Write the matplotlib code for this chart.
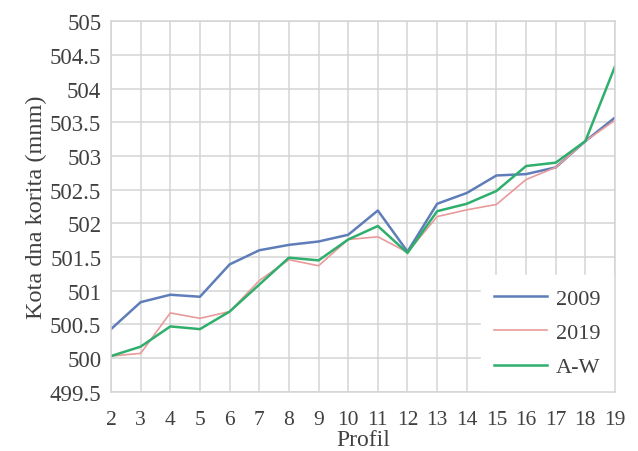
import numpy as np
import matplotlib

matplotlib.use('Agg')

import matplotlib.pyplot as plt

profiles = list(range(2, 20))
kota_2009 = [500.43, 500.83, 500.94, 500.91, 501.39, 501.60, 501.68, 501.73, 501.83,
             502.19, 501.58, 502.29, 502.45, 502.71, 502.73, 502.83, 503.22, 503.57]
kota_2019 = [500.03, 500.07, 500.67, 500.59, 500.69, 501.15, 501.46, 501.37, 501.76,
             501.80, 501.57, 502.10, 502.20, 502.28, 502.65, 502.83, 503.22, 503.53]
kota_aw = [500.03, 500.17, 500.47, 500.43, 500.69, 501.09, 501.49, 501.45, 501.76,
           501.96, 501.56, 502.18, 502.29, 502.48, 502.85, 502.90, 503.22, 504.33]
y_ticks = np.arange(499.5, 505.01, 0.5)
y_labels = ['499.5', '500', '500.5', '501', '501.5', '502', '502.5',
            '503', '503.5', '504', '504.5', '505']

plt.rcParams['font.family'] = ['Liberation Serif', 'DejaVu Serif']

fig = plt.figure(figsize=(6.38, 4.52), dpi=100)
ax = fig.add_axes([0.174, 0.131, 0.79, 0.82])

ax.plot(profiles, kota_2009, color='#5f7db8', lw=1.8, label='2009')
ax.plot(profiles, kota_2019, color='#e99a9a', lw=1.2, label='2019')
ax.plot(profiles, kota_aw, color='#2fae6c', lw=1.8, label='A-W')

ax.set_xlim(2, 19)
ax.set_ylim(499.5, 505)
ax.set_xticks(profiles)
ax.set_yticks(y_ticks)
ax.set_yticklabels(y_labels)
ax.grid(True, color='#d4d4d4', lw=1.1)
ax.set_axisbelow(True)
for s in ax.spines.values():
    s.set_color('#d4d4d4')
    s.set_linewidth(1.1)
ax.tick_params(length=0, colors='#404040')
ax.tick_params(axis='y', labelsize=16.5, pad=7)
ax.tick_params(axis='x', labelsize=15.5, pad=13)

ax.set_xlabel('Profil', fontsize=17, color='#404040', labelpad=0)
ax.set_ylabel('Kota dna korita (mnm)', fontsize=17.5, color='#404040', labelpad=2)

leg = ax.legend(loc='lower right', fontsize=16, frameon=True, fancybox=False,
                edgecolor='white', framealpha=1, borderaxespad=0.05,
                handlelength=2.4, handletextpad=0.4, labelspacing=0.62,
                borderpad=0.6)
leg.set_zorder(2.2)  # keep spines on top of the legend box
for t in leg.get_texts():
    t.set_color('#404040')

plt.savefig('out.png', dpi=100)
